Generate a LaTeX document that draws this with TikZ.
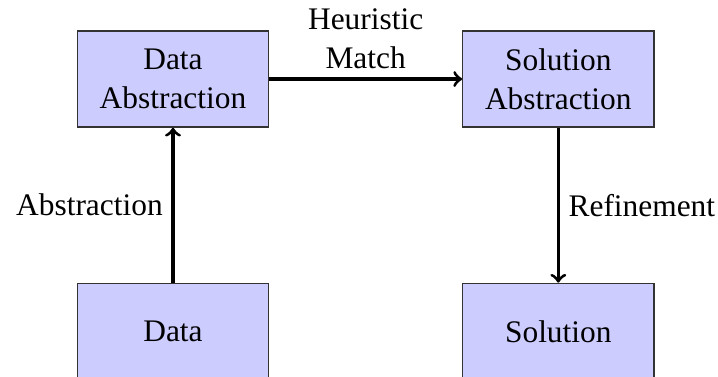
\documentclass[tikz,border=0pt]{standalone}
\usepackage{fontspec}
\setmainfont{Liberation Serif}
\usetikzlibrary{positioning}

\begin{document}
\begin{tikzpicture}[
        font=\fontsize{12pt}{14.8pt}\selectfont,
        node distance=59.2pt and 73.7pt,
        box/.style={rectangle, draw=black!80, line width=0.5pt, fill=blue!20, minimum width=73pt, minimum height=36.7pt, align=center},
        arrow/.style={->, line width=1.2pt}
    ]
        \useasboundingbox (-66.1pt,-113.8pt) rectangle (208.2pt,30.2pt);

        % Boxes
        \node[box] (dataabs) {Data\\Abstraction};
        \node[box, right=of dataabs] (solabs) {Solution\\Abstraction};
        \node[box, below=of dataabs] (data) {Data};
        \node[box, below=of solabs] (sol) {Solution};

        % Arrows
        \draw[arrow] (data) -- node[left] (abslabel) {Abstraction} (dataabs);
        \draw[arrow] (dataabs) -- node[above, align=center] (matchlabel) {Heuristic\\Match} (solabs);
        \draw[arrow] (solabs) -- node[right] (reflabel) {Refinement} (sol);
    \end{tikzpicture}
\end{document}
